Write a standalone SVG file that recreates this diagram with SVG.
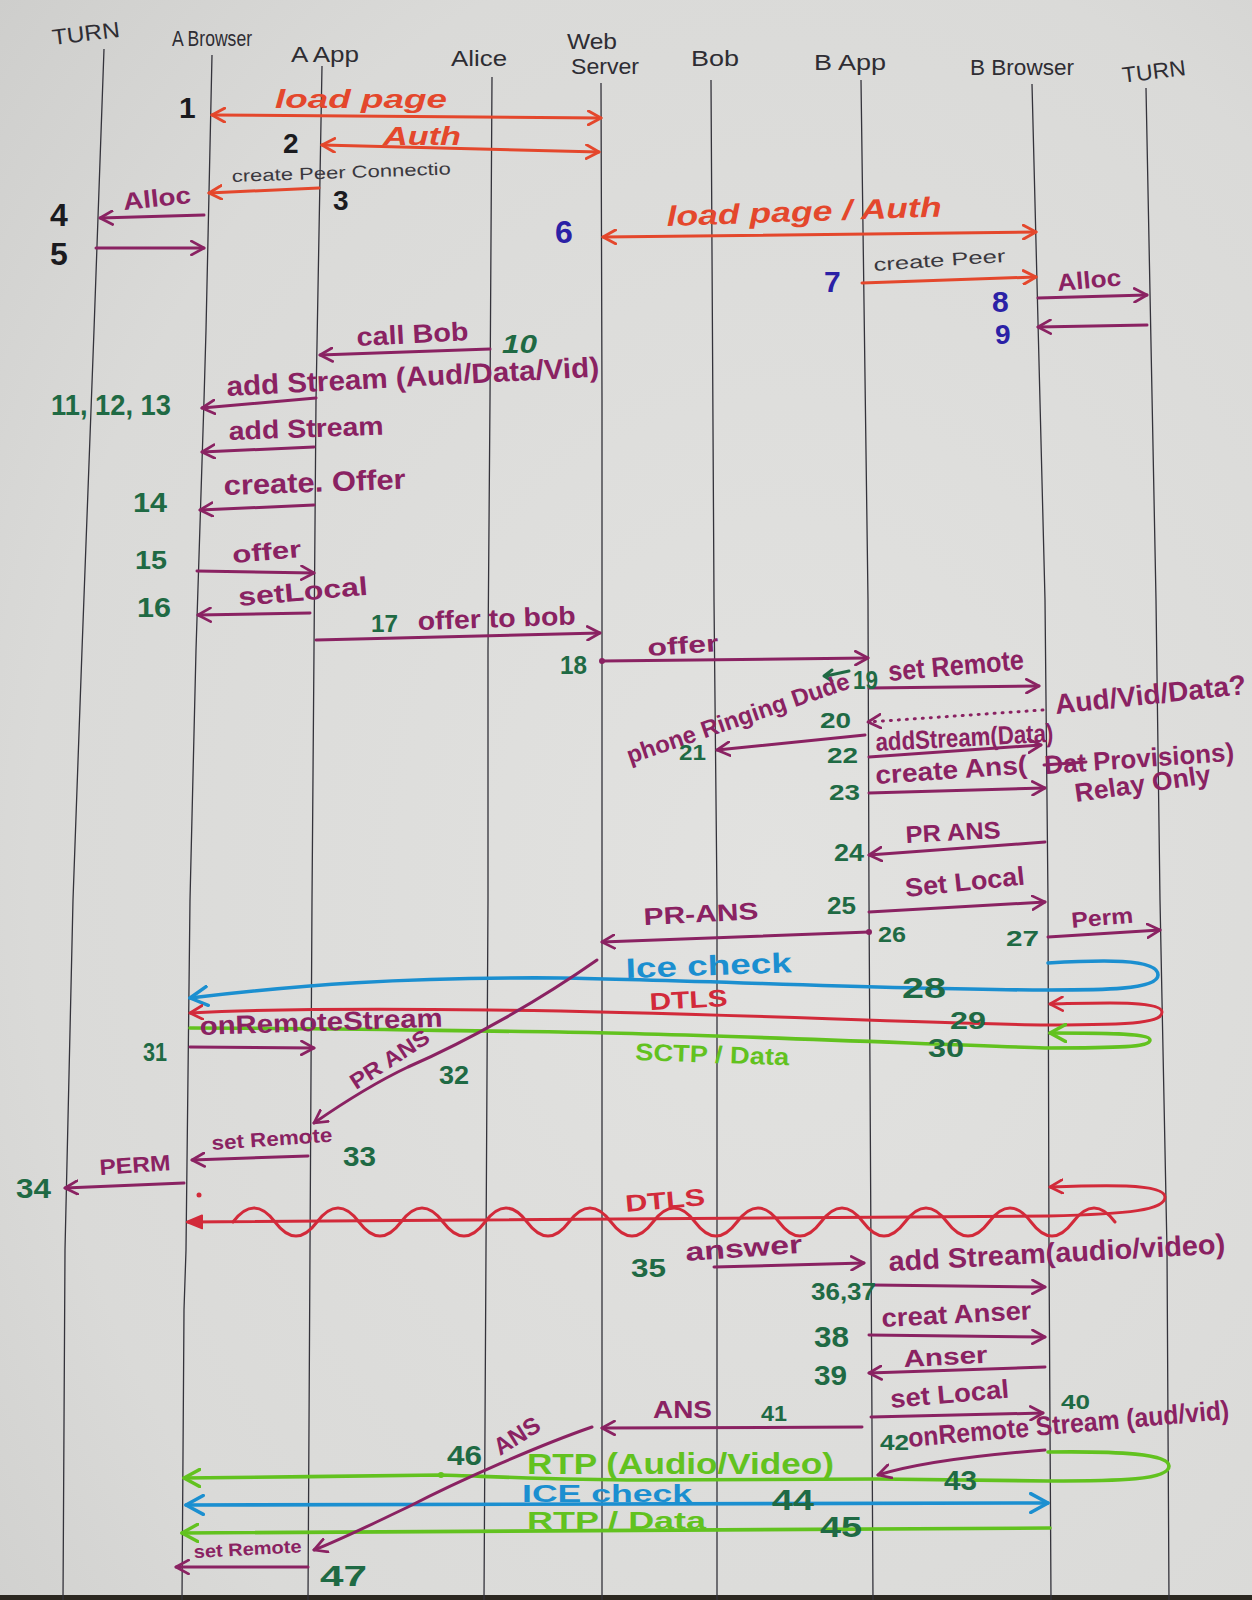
<svg xmlns="http://www.w3.org/2000/svg" width="1252" height="1600" viewBox="0 0 1252 1600">
  <defs>
    <radialGradient id="paper" cx="0.62" cy="0.55" r="0.85">
      <stop offset="0" stop-color="#e2e2e0"/>
      <stop offset="0.7" stop-color="#dadad8"/>
      <stop offset="1" stop-color="#cdcdcb"/>
    </radialGradient>
    <marker id="ah-or" viewBox="0 0 14 14" refX="12" refY="7" markerWidth="16" markerHeight="16" markerUnits="userSpaceOnUse" orient="auto-start-reverse">
      <path d="M1,1 L12,7 L1,13" fill="none" stroke="#e4472c" stroke-width="2.6" stroke-linecap="round" stroke-linejoin="round"/>
    </marker>
    <marker id="ah-pl" viewBox="0 0 14 14" refX="12" refY="7" markerWidth="16" markerHeight="16" markerUnits="userSpaceOnUse" orient="auto-start-reverse">
      <path d="M1,1 L12,7 L1,13" fill="none" stroke="#8a2262" stroke-width="2.4" stroke-linecap="round" stroke-linejoin="round"/>
    </marker>
    <marker id="ah-bl" viewBox="0 0 14 14" refX="12" refY="7" markerWidth="22" markerHeight="22" markerUnits="userSpaceOnUse" orient="auto-start-reverse">
      <path d="M1,1 L12,7 L1,13" fill="none" stroke="#1b8fd0" stroke-width="2.2" stroke-linecap="round" stroke-linejoin="round"/>
    </marker>
    <marker id="ah-rd" viewBox="0 0 14 14" refX="12" refY="7" markerWidth="16" markerHeight="16" markerUnits="userSpaceOnUse" orient="auto-start-reverse">
      <path d="M1,1 L12,7 L1,13" fill="none" stroke="#d22a3a" stroke-width="2.4" stroke-linecap="round" stroke-linejoin="round"/>
    </marker>
    <marker id="ah-rdf" viewBox="0 0 14 14" refX="12" refY="7" markerWidth="18" markerHeight="18" markerUnits="userSpaceOnUse" orient="auto-start-reverse">
      <path d="M1,2 L13,7 L1,12 Z" fill="#d22a3a" stroke="#d22a3a" stroke-width="1.5" stroke-linejoin="round"/>
    </marker>
    <marker id="ah-gr" viewBox="0 0 14 14" refX="12" refY="7" markerWidth="20" markerHeight="20" markerUnits="userSpaceOnUse" orient="auto-start-reverse">
      <path d="M1,1 L12,7 L1,13" fill="none" stroke="#62c21f" stroke-width="2.4" stroke-linecap="round" stroke-linejoin="round"/>
    </marker>
  </defs>
  <style>
    .ll { fill: none; stroke: #34333b; stroke-width: 1.3; }
    .hd { font-family: "Liberation Sans", Arial, sans-serif; font-size: 22px; fill: #2e2d33; }
    .m { fill: none; stroke-width: 3; stroke-linecap: round; stroke-linejoin: round; }
    .big { stroke-width: 3.6; }
    .or { stroke: #e4472c; }
    .pl { stroke: #8a2262; }
    .bl { stroke: #1b8fd0; }
    .rd { stroke: #d22a3a; }
    .gr { stroke: #62c21f; }
    .t { font-family: "Liberation Sans", Arial, sans-serif; font-weight: bold; }
    .thin { font-family: "Liberation Sans", Arial, sans-serif; font-weight: normal; fill: #3a383e; }
    .to { fill: #e4472c; }
    .tp { fill: #8a2262; }
    .tb { fill: #1b8fd0; }
    .tr { fill: #d22a3a; }
    .tg { fill: #62c21f; }
    .ng { fill: #1f6a44; }
    .nk { fill: #1b1b1f; }
    .nb { fill: #2b21a6; }
  </style>

  <!-- paper -->
  <rect x="0" y="0" width="1252" height="1600" fill="url(#paper)"/>
  <rect x="0" y="1595" width="1252" height="5" fill="#2b2720"/>

  <!-- participants: heading + lifeline -->
  <g id="turn-a">
    <text class="hd" x="52" y="41" textLength="68" lengthAdjust="spacingAndGlyphs" transform="rotate(-7 86 35)">TURN</text>
    <polyline class="ll" points="104,49 94,330 82,650 73,900 65,1250 63,1600"/>
  </g>
  <g id="a-browser">
    <text class="hd" x="172" y="46" font-size="20" textLength="80" lengthAdjust="spacingAndGlyphs">A Browser</text>
    <polyline class="ll" points="212,55 206,330 204,400 196,650 190,900 186,1250 184,1310 182,1600"/>
  </g>
  <g id="a-app">
    <text class="hd" x="291" y="62" font-size="24" textLength="68" lengthAdjust="spacingAndGlyphs">A App</text>
    <polyline class="ll" points="322,66 316,400 314,650 312,900 310,1250 308,1600"/>
  </g>
  <g id="alice">
    <text class="hd" x="451" y="66" font-size="24" textLength="56" lengthAdjust="spacingAndGlyphs">Alice</text>
    <polyline class="ll" points="492,77 490,400 488,650 488,900 486,1250 484,1600"/>
  </g>
  <g id="web-server">
    <text class="hd" x="567" y="49" textLength="50" lengthAdjust="spacingAndGlyphs">Web</text>
    <text class="hd" x="571" y="74" textLength="68" lengthAdjust="spacingAndGlyphs">Server</text>
    <polyline class="ll" points="601,83 602,400 602,1600"/>
  </g>
  <g id="bob">
    <text class="hd" x="691" y="66" font-size="24" textLength="48" lengthAdjust="spacingAndGlyphs">Bob</text>
    <polyline class="ll" points="711,80 714,600 717,900 717,1600"/>
  </g>
  <g id="b-app">
    <text class="hd" x="814" y="70" font-size="24" textLength="72" lengthAdjust="spacingAndGlyphs">B App</text>
    <polyline class="ll" points="861,80 868,600 869,900 871,1250 873,1600"/>
  </g>
  <g id="b-browser">
    <text class="hd" x="970" y="75" textLength="104" lengthAdjust="spacingAndGlyphs">B Browser</text>
    <polyline class="ll" points="1032,84 1045,600 1048,900 1049,1250 1051,1600"/>
  </g>
  <g id="turn-b">
    <text class="hd" x="1122" y="79" textLength="64" lengthAdjust="spacingAndGlyphs" transform="rotate(-7 1154 72)">TURN</text>
    <polyline class="ll" points="1146,88 1156,600 1160,900 1167,1250 1169,1600"/>
  </g>

  <!-- messages -->
  <g id="connectors">
    <!-- 1 load page -->
    <path class="m or" d="M212,115 L601,118" marker-start="url(#ah-or)" marker-end="url(#ah-or)"/>
    <text class="t nk" x="179" y="118" font-size="30">1</text>
    <text class="t to" x="275" y="108" font-size="26" font-style="italic" textLength="172" lengthAdjust="spacingAndGlyphs">load page</text>

    <!-- 2 Auth -->
    <path class="m or" d="M322,145 L599,152" marker-start="url(#ah-or)" marker-end="url(#ah-or)"/>
    <text class="t nk" x="283" y="153" font-size="28">2</text>
    <text class="t to" x="383" y="145" font-size="26" font-style="italic" textLength="78" lengthAdjust="spacingAndGlyphs">Auth</text>

    <!-- 3 create Peer Connection -->
    <path class="m or" d="M319,188 L209,193" marker-end="url(#ah-or)"/>
    <text class="thin" x="232" y="182" font-size="17" textLength="219" lengthAdjust="spacingAndGlyphs" transform="rotate(-2 232 182)">create Peer Connectio</text>
    <text class="t nk" x="333" y="210" font-size="28">3</text>

    <!-- 4 Alloc -->
    <path class="m pl" d="M204,215 L100,218" marker-end="url(#ah-pl)"/>
    <text class="t nk" x="50" y="226" font-size="32">4</text>
    <text class="t tp" x="124" y="210" font-size="24" textLength="68" lengthAdjust="spacingAndGlyphs" transform="rotate(-6 124 210)">Alloc</text>

    <!-- 5 -->
    <path class="m pl" d="M96,248 L204,248" marker-end="url(#ah-pl)"/>
    <text class="t nk" x="50" y="265" font-size="32">5</text>

    <!-- 6 load page / Auth -->
    <path class="m or" d="M603,237 L1036,232" marker-start="url(#ah-or)" marker-end="url(#ah-or)"/>
    <text class="t nb" x="555" y="243" font-size="32">6</text>
    <text class="t to" x="667" y="226" font-size="28" font-style="italic" textLength="275" lengthAdjust="spacingAndGlyphs" transform="rotate(-2 667 226)">load page / Auth</text>

    <!-- 7 create Peer -->
    <path class="m or" d="M862,283 L1036,277" marker-end="url(#ah-or)"/>
    <text class="t nb" x="824" y="292" font-size="30">7</text>
    <text class="thin" x="874" y="271" font-size="18" textLength="132" lengthAdjust="spacingAndGlyphs" transform="rotate(-4 874 271)">create Peer</text>

    <!-- 8 Alloc -->
    <path class="m pl" d="M1038,298 L1147,295" marker-end="url(#ah-pl)"/>
    <text class="t nb" x="992" y="312" font-size="30">8</text>
    <text class="t tp" x="1058" y="291" font-size="24" textLength="64" lengthAdjust="spacingAndGlyphs" transform="rotate(-5 1058 291)">Alloc</text>

    <!-- 9 -->
    <path class="m pl" d="M1147,325 L1038,327" marker-end="url(#ah-pl)"/>
    <text class="t nb" x="995" y="344" font-size="28">9</text>

    <!-- 10 call Bob -->
    <path class="m pl" d="M490,349 L320,355" marker-end="url(#ah-pl)"/>
    <text class="t tp" x="357" y="346" font-size="26" textLength="112" lengthAdjust="spacingAndGlyphs" transform="rotate(-3 357 346)">call Bob</text>
    <text class="t ng" x="502" y="353" font-size="26" font-style="italic" textLength="35" lengthAdjust="spacingAndGlyphs">10</text>

    <!-- 11,12,13 addStream -->
    <path class="m pl" d="M316,398 L202,408" marker-end="url(#ah-pl)"/>
    <text class="t ng" x="51" y="415" font-size="30" textLength="120" lengthAdjust="spacingAndGlyphs">11, 12, 13</text>
    <text class="t tp" x="227" y="396" font-size="28" textLength="373" lengthAdjust="spacingAndGlyphs" transform="rotate(-3 227 396)">add Stream (Aud/Data/Vid)</text>

    <path class="m pl" d="M314,447 L202,452" marker-end="url(#ah-pl)"/>
    <text class="t tp" x="229" y="440" font-size="26" textLength="155" lengthAdjust="spacingAndGlyphs" transform="rotate(-2 229 440)">add Stream</text>

    <!-- 14 createOffer -->
    <path class="m pl" d="M314,505 L200,510" marker-end="url(#ah-pl)"/>
    <text class="t tp" x="224" y="495" font-size="28" textLength="182" lengthAdjust="spacingAndGlyphs" transform="rotate(-2 224 495)">create. Offer</text>
    <text class="t ng" x="133" y="512" font-size="28" textLength="34" lengthAdjust="spacingAndGlyphs">14</text>

    <!-- 15 offer -->
    <path class="m pl" d="M197,571 L314,573" marker-end="url(#ah-pl)"/>
    <text class="t tp" x="233" y="563" font-size="24" textLength="69" lengthAdjust="spacingAndGlyphs" transform="rotate(-5 233 563)">offer</text>
    <text class="t ng" x="135" y="569" font-size="26" textLength="32" lengthAdjust="spacingAndGlyphs">15</text>

    <!-- 16 setLocal -->
    <path class="m pl" d="M310,613 L198,615" marker-end="url(#ah-pl)"/>
    <text class="t tp" x="239" y="606" font-size="26" textLength="130" lengthAdjust="spacingAndGlyphs" transform="rotate(-5 239 606)">setLocal</text>
    <text class="t ng" x="137" y="617" font-size="28" textLength="34" lengthAdjust="spacingAndGlyphs">16</text>

    <!-- 17 offer to bob -->
    <path class="m pl" d="M316,640 L600,633" marker-end="url(#ah-pl)"/>
    <text class="t ng" x="371" y="632" font-size="24" textLength="27" lengthAdjust="spacingAndGlyphs">17</text>
    <text class="t tp" x="418" y="630" font-size="26" textLength="158" lengthAdjust="spacingAndGlyphs" transform="rotate(-2 418 630)">offer to bob</text>

    <!-- 18 offer -->
    <circle cx="602" cy="661" r="3" fill="#8a2262"/>
    <path class="m pl" d="M602,661 L868,658" marker-end="url(#ah-pl)"/>
    <text class="t tp" x="648" y="656" font-size="24" textLength="71" lengthAdjust="spacingAndGlyphs" transform="rotate(-4 648 656)">offer</text>
    <text class="t ng" x="560" y="674" font-size="26" textLength="27" lengthAdjust="spacingAndGlyphs">18</text>

    <!-- 19 set Remote -->
    <path class="m" d="M849,671 L826,676 M832,670 L824,676 L832,681" stroke="#1f6a44"/>
    <path class="m pl" d="M869,688 L1039,686" marker-end="url(#ah-pl)"/>
    <text class="t ng" x="853" y="689" font-size="26" textLength="25" lengthAdjust="spacingAndGlyphs">19</text>
    <text class="t tp" x="889" y="681" font-size="28" textLength="136" lengthAdjust="spacingAndGlyphs" transform="rotate(-5 889 681)">set Remote</text>

    <!-- 20 dotted -->
    <path class="m pl" d="M1043,710 L868,722" stroke-dasharray="1 7" marker-end="url(#ah-pl)"/>
    <text class="t ng" x="820" y="728" font-size="22" textLength="31" lengthAdjust="spacingAndGlyphs">20</text>
    <text class="t tp" x="1056" y="714" font-size="28" textLength="192" lengthAdjust="spacingAndGlyphs" transform="rotate(-6 1056 714)">Aud/Vid/Data?</text>

    <!-- 21 phone ringing -->
    <path class="m pl" d="M865,735 L717,750" marker-end="url(#ah-pl)"/>
    <text class="t tp" font-size="24" textLength="234" lengthAdjust="spacingAndGlyphs" transform="translate(630,764) rotate(-19)">phone Ringing Dude</text>
    <text class="t ng" x="679" y="760" font-size="22" textLength="27" lengthAdjust="spacingAndGlyphs">21</text>

    <!-- 22 addStream(Data) -->
    <path class="m pl" d="M869,757 L1041,745" marker-end="url(#ah-pl)"/>
    <text class="t ng" x="827" y="763" font-size="22" textLength="31" lengthAdjust="spacingAndGlyphs">22</text>
    <text class="t tp" x="876" y="751" font-size="26" textLength="178" lengthAdjust="spacingAndGlyphs" transform="rotate(-3 876 751)">addStream(Data)</text>

    <!-- 23 createAns -->
    <path class="m pl" d="M869,793 L1045,788" marker-end="url(#ah-pl)"/>
    <text class="t ng" x="829" y="800" font-size="22" textLength="31" lengthAdjust="spacingAndGlyphs">23</text>
    <text class="t tp" x="876" y="784" font-size="26" textLength="152" lengthAdjust="spacingAndGlyphs" transform="rotate(-4 876 784)">create Ans(</text>
    <text class="t tp" x="1045" y="774" font-size="26" textLength="190" lengthAdjust="spacingAndGlyphs" transform="rotate(-4 1045 774)">Dat Provisions)</text>
    <path class="m pl" d="M1044,765 L1086,762" stroke-width="4"/>
    <text class="t tp" x="1076" y="802" font-size="26" textLength="137" lengthAdjust="spacingAndGlyphs" transform="rotate(-8 1076 802)">Relay Only</text>

    <!-- 24 PR ANS -->
    <path class="m pl" d="M1045,842 L869,855" marker-end="url(#ah-pl)"/>
    <text class="t tp" x="906" y="843" font-size="24" textLength="95" lengthAdjust="spacingAndGlyphs" transform="rotate(-3 906 843)">PR ANS</text>
    <text class="t ng" x="834" y="861" font-size="24" textLength="30" lengthAdjust="spacingAndGlyphs">24</text>

    <!-- 25 Set Local -->
    <path class="m pl" d="M869,912 L1045,902" marker-end="url(#ah-pl)"/>
    <text class="t tp" x="906" y="897" font-size="26" textLength="120" lengthAdjust="spacingAndGlyphs" transform="rotate(-6 906 897)">Set Local</text>
    <text class="t ng" x="827" y="914" font-size="24" textLength="29" lengthAdjust="spacingAndGlyphs">25</text>

    <!-- 26 PR-ANS -->
    <circle cx="869" cy="932" r="3" fill="#8a2262"/>
    <path class="m pl" d="M869,932 L602,942" marker-end="url(#ah-pl)"/>
    <text class="t tp" x="644" y="925" font-size="24" textLength="115" lengthAdjust="spacingAndGlyphs" transform="rotate(-3 644 925)">PR-ANS</text>
    <text class="t ng" x="878" y="942" font-size="22" textLength="28" lengthAdjust="spacingAndGlyphs">26</text>

    <!-- 27 Perm -->
    <path class="m pl" d="M1048,937 L1160,930" marker-end="url(#ah-pl)"/>
    <text class="t ng" x="1006" y="946" font-size="22" textLength="33" lengthAdjust="spacingAndGlyphs">27</text>
    <text class="t tp" x="1072" y="928" font-size="22" textLength="62" lengthAdjust="spacingAndGlyphs" transform="rotate(-5 1072 928)">Perm</text>

    <!-- 28 ICE check -->
    <path class="m big bl" d="M1048,963 C1100,960 1158,958 1158,975 C1158,990 1100,990 1048,990 C900,990 700,980 560,978 C400,977 300,985 190,998" marker-end="url(#ah-bl)"/>
    <text class="t tb" x="626" y="978" font-size="28" textLength="166" lengthAdjust="spacingAndGlyphs" transform="rotate(-2 626 978)">Ice check</text>
    <text class="t ng" x="902" y="998" font-size="30" textLength="44" lengthAdjust="spacingAndGlyphs">28</text>

    <!-- 29 DTLS -->
    <path class="m rd" d="M1050,1004 C1100,1003 1162,1000 1162,1012 C1162,1022 1140,1025 1048,1025 C900,1023 700,1012 490,1010 C350,1008 250,1010 190,1013" marker-start="url(#ah-rd)" marker-end="url(#ah-rd)"/>
    <text class="t tr" x="650" y="1010" font-size="24" textLength="78" lengthAdjust="spacingAndGlyphs" transform="rotate(-3 650 1010)">DTLS</text>
    <text class="t ng" x="950" y="1029" font-size="23" textLength="36" lengthAdjust="spacingAndGlyphs">29</text>

    <!-- 30 SCTP / Data -->
    <path class="m big gr" d="M1050,1033 C1100,1033 1150,1033 1150,1040 C1150,1047 1120,1048 1045,1048 C900,1043 700,1034 560,1032 C400,1030 300,1028 190,1028" marker-start="url(#ah-gr)"/>
    <text class="t tg" x="635" y="1060" font-size="24" textLength="154" lengthAdjust="spacingAndGlyphs" transform="rotate(2 635 1060)">SCTP / Data</text>
    <text class="t ng" x="928" y="1057" font-size="26" textLength="36" lengthAdjust="spacingAndGlyphs">30</text>

    <!-- 31 onRemoteStream -->
    <path class="m pl" d="M190,1047 L314,1048" marker-end="url(#ah-pl)"/>
    <text class="t tp" x="200" y="1035" font-size="26" textLength="243" lengthAdjust="spacingAndGlyphs" transform="rotate(-2 200 1035)">onRemoteStream</text>
    <text class="t ng" x="143" y="1061" font-size="26" textLength="24" lengthAdjust="spacingAndGlyphs">31</text>

    <!-- 32 PR ANS (diagonal) -->
    <path class="m pl" d="M597,960 C540,1000 470,1040 408,1067 C370,1085 340,1105 314,1123" marker-end="url(#ah-pl)"/>
    <text class="t tp" font-size="22" textLength="90" lengthAdjust="spacingAndGlyphs" transform="translate(356,1090) rotate(-33)">PR ANS</text>
    <text class="t ng" x="439" y="1084" font-size="26" textLength="30" lengthAdjust="spacingAndGlyphs">32</text>

    <!-- 33 set Remote -->
    <path class="m pl" d="M308,1156 L192,1160" marker-end="url(#ah-pl)"/>
    <text class="t tp" x="212" y="1150" font-size="20" textLength="121" lengthAdjust="spacingAndGlyphs" transform="rotate(-4 212 1150)">set Remote</text>
    <text class="t ng" x="343" y="1166" font-size="28" textLength="33" lengthAdjust="spacingAndGlyphs">33</text>

    <!-- 34 PERM -->
    <path class="m pl" d="M184,1183 L65,1188" marker-end="url(#ah-pl)"/>
    <text class="t tp" x="100" y="1175" font-size="22" textLength="71" lengthAdjust="spacingAndGlyphs" transform="rotate(-4 100 1175)">PERM</text>
    <text class="t ng" x="16" y="1198" font-size="28" textLength="35" lengthAdjust="spacingAndGlyphs">34</text>

    <!-- DTLS (wavy) -->
    <path class="m rd" d="M1050,1187 C1100,1185 1165,1183 1165,1197 C1165,1210 1130,1214 1048,1216 L188,1222" marker-start="url(#ah-rd)" marker-end="url(#ah-rdf)"/>
    <path class="m rd" stroke-width="2.4" d="M233,1222 q21,-28 42,0 t42,0 t42,0 t42,0 t42,0 t42,0 t42,0 t42,0 t42,0 t42,0 t42,0 t42,0 t42,0 t42,0 t42,0 t42,0 t42,0 t42,0 t42,0 t42,0 t42,0"/>
    <circle cx="199" cy="1195" r="2.5" fill="#d22a3a"/>
    <text class="t tr" x="626" y="1212" font-size="24" textLength="80" lengthAdjust="spacingAndGlyphs" transform="rotate(-5 626 1212)">DTLS</text>

    <!-- 35 answer -->
    <path class="m pl" d="M714,1267 L864,1263" marker-end="url(#ah-pl)"/>
    <text class="t ng" x="631" y="1277" font-size="26" textLength="35" lengthAdjust="spacingAndGlyphs">35</text>
    <text class="t tp" x="686" y="1261" font-size="26" textLength="117" lengthAdjust="spacingAndGlyphs" transform="rotate(-4 686 1261)">answer</text>

    <!-- 36,37 addStream -->
    <path class="m pl" d="M873,1285 L1045,1287" marker-end="url(#ah-pl)"/>
    <text class="t ng" x="811" y="1300" font-size="24" textLength="65" lengthAdjust="spacingAndGlyphs">36,37</text>
    <text class="t tp" x="889" y="1271" font-size="28" textLength="337" lengthAdjust="spacingAndGlyphs" transform="rotate(-3 889 1271)">add Stream(audio/video)</text>

    <!-- 38 creatAnser -->
    <path class="m pl" d="M869,1335 L1045,1337" marker-end="url(#ah-pl)"/>
    <text class="t ng" x="814" y="1347" font-size="30" textLength="35" lengthAdjust="spacingAndGlyphs">38</text>
    <text class="t tp" x="882" y="1327" font-size="26" textLength="150" lengthAdjust="spacingAndGlyphs" transform="rotate(-3 882 1327)">creat Anser</text>

    <!-- 39 Anser -->
    <path class="m pl" d="M1045,1367 L869,1373" marker-end="url(#ah-pl)"/>
    <text class="t ng" x="814" y="1385" font-size="28" textLength="33" lengthAdjust="spacingAndGlyphs">39</text>
    <text class="t tp" x="904" y="1367" font-size="24" textLength="84" lengthAdjust="spacingAndGlyphs" transform="rotate(-3 904 1367)">Anser</text>

    <!-- 40 set Local -->
    <path class="m pl" d="M871,1417 L1043,1413" marker-end="url(#ah-pl)"/>
    <text class="t tp" x="891" y="1408" font-size="26" textLength="119" lengthAdjust="spacingAndGlyphs" transform="rotate(-5 891 1408)">set Local</text>
    <text class="t ng" x="1061" y="1409" font-size="20" textLength="29" lengthAdjust="spacingAndGlyphs">40</text>

    <!-- 41 ANS -->
    <path class="m pl" d="M862,1427 L602,1428" marker-end="url(#ah-pl)"/>
    <text class="t tp" x="653" y="1418" font-size="24" textLength="59" lengthAdjust="spacingAndGlyphs">ANS</text>
    <text class="t ng" x="761" y="1421" font-size="22" textLength="26" lengthAdjust="spacingAndGlyphs">41</text>

    <!-- RTP (Audio/Video) loop, drawn under the onRemoteStream label -->
    <path class="m big gr" d="M1048,1452 C1120,1451 1169,1454 1169,1466 C1169,1480 1120,1481 1048,1481 L878,1479 L640,1480 C560,1480 480,1476 441,1475 C380,1475 250,1478 184,1478" marker-end="url(#ah-gr)"/>
    <circle cx="441" cy="1475" r="3" fill="#62c21f"/>
    <text class="t tg" x="527" y="1474" font-size="30" textLength="307" lengthAdjust="spacingAndGlyphs">RTP (Audio/Video)</text>

    <!-- 42/43 onRemoteStream -->
    <path class="m pl" d="M1045,1450 C980,1455 920,1462 878,1475" marker-end="url(#ah-pl)"/>
    <text class="t ng" x="880" y="1450" font-size="22" textLength="29" lengthAdjust="spacingAndGlyphs">42</text>
    <text class="t tp" x="909" y="1447" font-size="27" textLength="322" lengthAdjust="spacingAndGlyphs" transform="rotate(-5 909 1447)">onRemote Stream (aud/vid)</text>
    <text class="t ng" x="944" y="1490" font-size="28" textLength="33" lengthAdjust="spacingAndGlyphs">43</text>

    <!-- 44 ICE check -->
    <path class="m big bl" d="M186,1505 L1048,1503" marker-start="url(#ah-bl)" marker-end="url(#ah-bl)"/>
    <text class="t tb" x="522" y="1502" font-size="24" textLength="170" lengthAdjust="spacingAndGlyphs">ICE check</text>
    <text class="t ng" x="772" y="1510" font-size="30" textLength="42" lengthAdjust="spacingAndGlyphs">44</text>

    <!-- 45 RTP / Data -->
    <path class="m big gr" d="M1050,1528 L182,1533" marker-end="url(#ah-gr)"/>
    <text class="t tg" x="527" y="1529" font-size="24" textLength="179" lengthAdjust="spacingAndGlyphs">RTP / Data</text>
    <text class="t ng" x="820" y="1537" font-size="30" textLength="42" lengthAdjust="spacingAndGlyphs">45</text>

    <!-- 46 ANS (diagonal) -->
    <path class="m pl" d="M592,1427 C540,1445 460,1480 408,1507 C370,1525 340,1540 314,1550" marker-end="url(#ah-pl)"/>
    <text class="t ng" x="447" y="1465" font-size="28" textLength="35" lengthAdjust="spacingAndGlyphs">46</text>
    <text class="t tp" font-size="24" textLength="50" lengthAdjust="spacingAndGlyphs" transform="translate(500,1456) rotate(-32)">ANS</text>

    <!-- 47 set Remote -->
    <path class="m pl" d="M308,1567 L176,1567" marker-end="url(#ah-pl)"/>
    <text class="t tp" x="194" y="1558" font-size="18" textLength="108" lengthAdjust="spacingAndGlyphs" transform="rotate(-3 194 1558)">set Remote</text>
    <text class="t ng" x="320" y="1586" font-size="30" textLength="47" lengthAdjust="spacingAndGlyphs">47</text>
  </g>
</svg>
